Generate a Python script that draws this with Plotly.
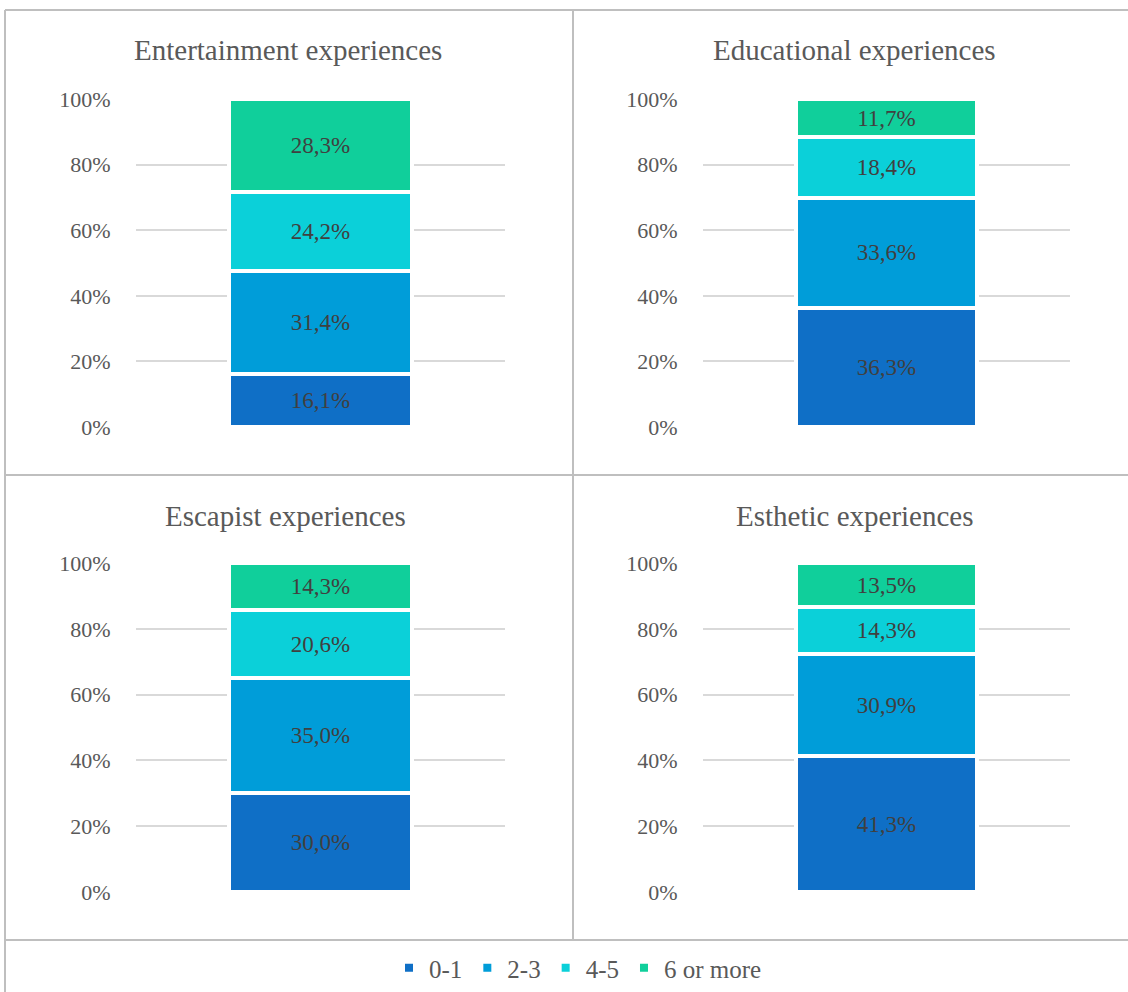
import plotly.graph_objects as go

panels = ["Entertainment experiences", "Educational experiences",
          "Escapist experiences", "Esthetic experiences"]
series = ["0-1", "2-3", "4-5", "6 or more"]
colors = ["#0F6FC6", "#009DD9", "#0BD0D9", "#10CF9B"]
# values per panel in series order (percent)
entertainment = [16.1, 31.4, 24.2, 28.3]
educational = [36.3, 33.6, 18.4, 11.7]
escapist = [30.0, 35.0, 20.6, 14.3]
esthetic = [41.3, 30.9, 14.3, 13.5]
panel_values = [entertainment, educational, escapist, esthetic]
tick_vals = [0, 20, 40, 60, 80, 100]
tick_text = ["0%", "20%", "40%", "60%", "80%", "100%"]

W, H = 1128, 992
FONT = "Liberation Serif"

def px(x):
    return x / W

def py(y):
    return 1 - y / H

x_domains = [[px(136), px(505)], [px(703), px(1070)]]
y_domains = [[py(427), py(99)], [py(892), py(563)]]

fig = go.Figure()
for p, vals in enumerate(panel_values):
    ax = "" if p == 0 else str(p + 1)
    for s, name in enumerate(series):
        fig.add_trace(go.Bar(
            x=[panels[p]], y=[vals[s]], name=name,
            marker=dict(color=colors[s], line=dict(color="white", width=4)),
            texttemplate="%{y:.1f}%", textposition="inside",
            insidetextanchor="middle", constraintext="none",
            textfont=dict(family=FONT, size=23, color="#404040"),
            width=0.495, legendgroup=name, showlegend=(p == 0),
            xaxis="x" + ax, yaxis="y" + ax, hoverinfo="skip",
        ))

layout = dict(
    width=W, height=H, margin=dict(l=0, r=0, t=0, b=0, autoexpand=False),
    barmode="stack", separators=", ",
    paper_bgcolor="white", plot_bgcolor="white",
    font=dict(family=FONT, color="#595959"),
    legend=dict(orientation="h", x=px(578), xanchor="center", y=py(968),
                yanchor="middle", traceorder="normal",
                font=dict(family=FONT, size=25, color="#595959"),
                itemwidth=30, tracegroupgap=0),
)
for p in range(4):
    ax = "" if p == 0 else str(p + 1)
    col, row = p % 2, p // 2
    layout["xaxis" + ax] = dict(domain=x_domains[col], anchor="y" + ax,
                                showticklabels=False, showgrid=False,
                                zeroline=False, showline=False,
                                range=[-0.5, 0.5], fixedrange=True)
    layout["yaxis" + ax] = dict(domain=y_domains[row], anchor="x" + ax,
                                range=[0, 100], tickvals=tick_vals,
                                ticktext=tick_text, showgrid=True,
                                gridcolor="#D9D9D9", gridwidth=2,
                                zeroline=False, showline=False,
                                ticks="outside", ticklen=20,
                                tickcolor="rgba(0,0,0,0)",
                                tickfont=dict(family=FONT, size=22, color="#595959"))
fig.update_layout(**layout)

title_pos = [(288, 50), (854, 50), (285, 516), (855, 516)]
for t, (tx, ty) in zip(panels, title_pos):
    fig.add_annotation(text=t, x=px(tx), y=py(ty), xref="paper", yref="paper",
                       showarrow=False, xanchor="center", yanchor="middle",
                       font=dict(family=FONT, size=29, color="#595959"))

line = dict(color="#BFBFBF", width=2)
shapes = [
    dict(type="line", xref="paper", yref="paper", x0=px(5), x1=px(1128), y0=py(10), y1=py(10), line=line),
    dict(type="line", xref="paper", yref="paper", x0=px(5), x1=px(5), y0=py(10), y1=py(992), line=line),
    dict(type="line", xref="paper", yref="paper", x0=px(573), x1=px(573), y0=py(10), y1=py(940), line=line),
    dict(type="line", xref="paper", yref="paper", x0=px(5), x1=px(1128), y0=py(475), y1=py(475), line=line),
    dict(type="line", xref="paper", yref="paper", x0=px(5), x1=px(1128), y0=py(940), y1=py(940), line=line),
]
fig.update_layout(shapes=shapes)

fig.write_html("out.html")
